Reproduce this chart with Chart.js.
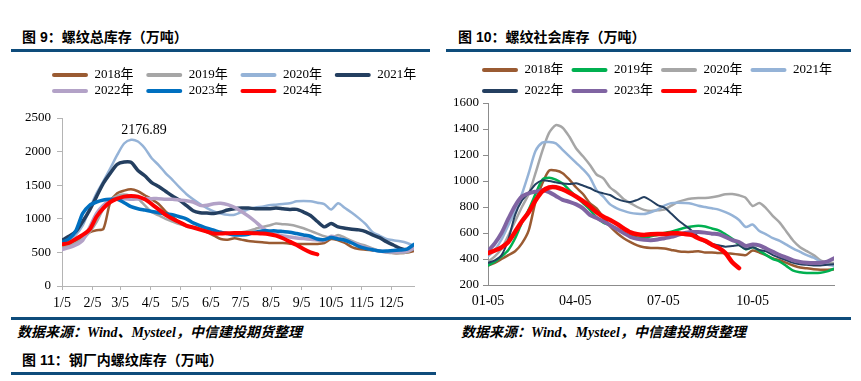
<!DOCTYPE html>
<html><head><meta charset="utf-8">
<script src="https://cdn.jsdelivr.net/npm/chart.js@4.4.1/dist/chart.umd.min.js"></script>
<style>
html,body{margin:0;padding:0;background:#fff;}
#page{position:relative;width:861px;height:381px;overflow:hidden;background:#fff;}
.title{position:absolute;font:bold 14px "Liberation Sans","Noto Sans CJK SC",sans-serif;color:#000;line-height:16px;white-space:nowrap;}
.rule{position:absolute;background:#0e4c7b;height:3px;}
.src{position:absolute;font:italic bold 14px "Liberation Serif","Noto Sans CJK SC",serif;color:#000;line-height:16px;white-space:nowrap;}
.cv{position:absolute;}
</style></head><body>
<div id="page">
 <div class="title" style="left:22px;top:29px">图 9：螺纹总库存（万吨）</div>
 <div class="title" style="left:458px;top:29px">图 10：螺纹社会库存（万吨）</div>
 <div class="rule" style="left:11px;top:49px;width:419px"></div>
 <div class="rule" style="left:446px;top:49px;width:405px"></div>
 <div class="cv" style="left:0px;top:55px;width:430px;height:255px"><canvas id="c1"></canvas></div>
 <div class="cv" style="left:430px;top:45px;width:431px;height:265px"><canvas id="c2"></canvas></div>
 <div class="rule" style="left:11px;top:317px;width:840px"></div>
 <div class="src" style="left:17px;top:325px">数据来源：Wind、Mysteel，中信建投期货整理</div>
 <div class="src" style="left:461px;top:325px">数据来源：Wind、Mysteel，中信建投期货整理</div>
 <div class="title" style="left:22px;top:352px">图 11：钢厂内螺纹库存（万吨）</div>
 <div class="rule" style="left:11px;top:372px;width:425px"></div>
</div>
<script>
// ---- shared weekly x positions (days after Jan 5) ----
const weekDays = [0,7,14,21,28,35,42,49,56,63,70,77,84,91,98,105,112,119,126,133,140,147,154,161,168,175,182,189,196,203,210,217,224,231,238,245,252,259,266,273,280,287,294,301,308,315,322,329,336,343,350,357];

// ---- Chart 1: 螺纹总库存 ----
const leftSeriesNames = ['2018年','2019年','2020年','2021年','2022年','2023年','2024年'];
const leftTickDays = [0,31,59,90,120,151,181,212,243,273,304,334];
const leftTickLabels = ['1/5','2/5','3/5','4/5','5/5','6/5','7/5','8/5','9/5','10/5','11/5','12/5'];
const L2018 = [600,620,660,740,800,830,850,1250,1380,1420, 1440,1410,1350,1290,1220,1110,1030,950,900,870, 850,800,750,700,690,710,690,670,660,650, 640,640,640,630,625,625,625,625,640,700, 680,640,580,550,540,530,520,505,490,490, 500,520];
const L2019 = [580,600,640,700,800,950,1150,1280,1340,1360, 1340,1300,1200,1100,1050,1000,960,920,890,870, 860,830,800,790,780,790,800,820,850,880, 900,930,920,910,890,860,820,780,740,720, 760,720,670,630,600,560,520,500,490,490, 500,560];
const L2020 = [640,680,760,900,1150,1380,1560,1750,1950,2120, 2176.89,2150,2050,1900,1800,1680,1580,1470,1370,1290, 1220,1160,1110,1080,1060,1060,1100,1140,1170,1180, 1200,1210,1220,1230,1260,1265,1260,1240,1220,1140, 1230,1160,1090,1010,920,800,750,700,680,665, 640,600];
const L2021 = [680,740,810,960,1130,1330,1530,1680,1810,1845, 1840,1720,1640,1540,1480,1410,1340,1280,1200,1120, 1090,1085,1080,1100,1130,1150,1160,1160,1150,1150, 1150,1160,1150,1140,1140,1100,1050,960,880,930, 880,860,845,835,810,760,720,660,610,560, 540,560];
const L2022 = [540,570,610,680,870,1080,1200,1280,1300,1300, 1290,1295,1300,1300,1300,1290,1290,1280,1270,1250, 1200,1200,1225,1230,1210,1170,1110,1040,960,870, 800,770,745,730,715,705,695,685,680,740, 710,680,650,610,570,540,520,510,510,510, 520,560];
const L2023 = [650,700,820,1080,1200,1250,1280,1290,1290,1240, 1180,1150,1130,1110,1090,1070,1060,1030,1000,940, 900,860,830,800,780,760,760,770,800,820, 820,820,810,800,780,760,740,700,690,720, 700,680,640,590,560,540,520,520,530,535, 550,620];
const L2024 = [620,640,700,760,840,1030,1160,1250,1300,1330, 1340,1330,1290,1220,1140,1060,1000,950,900,870, 840,810,780,780,785,790,790,790,785,780, 770,750,710,660,610,550,500,470];

// ---- Chart 2: 螺纹社会库存 ----
const rightSeriesNames = ['2018年','2019年','2020年','2021年','2022年','2023年','2024年'];
const rightTickDays = [0,90,181,273];
const rightTickLabels = ['01-05','04-05','07-05','10-05'];
const R2018 = [350,370,400,430,460,520,620,840,980,1080, 1080,1060,1010,950,900,830,790,720,650,600, 560,530,505,490,485,485,480,470,460,455, 455,460,450,450,446,445,440,435,430,465, 450,430,405,390,370,350,335,328,322,318, 318,320];
const R2019 = [350,380,420,470,560,680,780,900,1010,1025, 1010,980,930,880,830,780,720,680,660,630, 600,580,565,560,575,585,600,610,625,640, 650,655,650,635,620,590,555,510,475,490, 465,430,400,380,345,310,298,292,292,295, 305,325];
const R2020 = [380,420,480,580,690,800,900,1060,1230,1370, 1430,1410,1340,1250,1190,1125,1050,1020,950,910, 860,830,800,778,770,775,780,810,840,855, 865,870,870,875,885,898,900,890,870,808, 830,790,730,680,610,540,490,460,430,390, 372,369];
const R2021 = [420,470,550,660,770,900,1060,1230,1295,1300, 1290,1240,1190,1140,1090,1030,930,880,820,790, 770,755,748,746,760,780,810,830,832,830, 825,810,800,790,780,760,735,700,646,665, 615,590,560,540,510,480,455,430,410,380, 358,346];
const R2022 = [370,390,430,550,740,850,910,975,1005,1000, 990,980,977,982,965,946,920,905,892,862, 845,838,855,877,850,815,795,750,700,660, 620,570,530,515,505,495,500,505,475,490, 470,460,430,410,390,370,360,355,350,350, 355,360];
const R2023 = [460,520,600,710,810,880,905,918,928,915, 885,855,840,820,790,740,715,690,660,630, 600,570,555,548,545,550,560,570,585,600, 607,608,603,595,590,570,545,530,500,512, 505,480,455,430,410,390,378,372,370,372, 380,405];
const R2024 = [445,465,490,530,610,690,760,850,920,950, 952,935,910,880,845,805,760,725,700,670, 635,605,590,585,590,592,592,598,598,592, 585,560,540,510,485,445,375,330];

const legendPos = {
  id: 'legendPos',
  afterLayout(chart, args, o) {
    const lg = chart.legend;
    if (!lg || o.left === undefined) return;
    const h = lg.bottom - lg.top;
    lg.left = o.left; lg.right = o.left + o.width;
    lg.top = o.top; lg.bottom = o.top + h;
  }
};
const peakLabel = {
  id: 'peakLabel',
  afterDatasetsDraw(chart, args, o) {
    if (o.datasetIndex === undefined) return;
    const ds = chart.data.datasets[o.datasetIndex];
    let mi = 0;
    ds.data.forEach((p, i) => { if (p.y > ds.data[mi].y) mi = i; });
    const el = chart.getDatasetMeta(o.datasetIndex).data[mi];
    const ctx = chart.ctx;
    ctx.save();
    ctx.font = '14px "Liberation Serif"';
    ctx.fillStyle = '#000';
    ctx.textAlign = 'center';
    ctx.textBaseline = 'middle';
    ctx.fillText(ds.data[mi].y.toFixed(2), el.x + o.dx, el.y + o.dy);
    ctx.restore();
  }
};

function makeChart(id, names, series, colors, widths, cfg) {
  const datasets = series.map((vals, i) => ({
    label: names[i],
    data: vals.map((v, k) => ({ x: weekDays[k], y: v })),
    borderColor: colors[i],
    backgroundColor: colors[i],
    borderWidth: widths[i],
    pointRadius: 0,
    tension: 0.25,
    borderCapStyle: 'round',
    borderJoinStyle: 'round',
    order: series.length - i
  }));
  const fontFam = '"Liberation Serif", "Noto Sans CJK SC", serif';
  return new Chart(document.getElementById(id), {
    type: 'line',
    data: { datasets },
    plugins: [legendPos, peakLabel],
    options: {
      responsive: true, maintainAspectRatio: false, animation: false,
      layout: { padding: cfg.padding },
      plugins: {
        tooltip: { enabled: false },
        legend: {
          display: true, position: 'top', align: 'start',
          labels: {
            boxWidth: 36, boxHeight: 4, padding: cfg.legendPad,
            font: { family: fontFam, size: 13 }, color: '#000',
            generateLabels: (chart) => chart.data.datasets.map((ds, i) => ({
              text: ds.label + cfg.legendSuffix, fillStyle: ds.borderColor, strokeStyle: ds.borderColor,
              lineWidth: 0, hidden: false, datasetIndex: i, fontColor: '#000', borderRadius: 2
            }))
          }
        },
        legendPos: cfg.legendPos,
        peakLabel: cfg.peak || {}
      },
      scales: {
        x: {
          type: 'linear', min: 0, max: 357,
          afterBuildTicks: (s) => { s.ticks = cfg.tickDays.map(v => ({ value: v })); },
          afterFit: (s) => { s.height = cfg.xHeight; },
          grid: { display: true, drawOnChartArea: false, drawTicks: cfg.xTicks, tickLength: 4, color: cfg.axisColor },
          border: { display: true, color: cfg.axisColor, width: 1 },
          ticks: { autoSkip: false, maxRotation: 0, minRotation: 0, padding: cfg.xPad, color: '#000',
            font: { family: fontFam, size: 14 },
            callback: (v, i) => cfg.tickLabels[i] }
        },
        y: {
          min: cfg.yMin, max: cfg.yMax,
          afterFit: (s) => { s.width = cfg.yWidth; },
          grid: { display: true, drawOnChartArea: false, drawTicks: true, tickLength: 5, color: cfg.axisColor },
          border: { display: true, color: cfg.axisColor, width: 1 },
          ticks: { stepSize: cfg.yStep, padding: cfg.yPad, color: '#000', font: { family: fontFam, size: 13 },
            callback: (v) => String(v) }
        }
      }
    }
  });
}

makeChart('c1', leftSeriesNames,
  [L2018, L2019, L2020, L2021, L2022, L2023, L2024],
  ['#9a5b32', '#a6a6a6', '#95b3d7', '#243f60', '#b3a2c7', '#0070c0', '#ff0000'],
  [2.5, 2.5, 2.5, 3.5, 3.5, 3.5, 4],
  { padding: { top: 21, left: 0, right: 16, bottom: 0 }, legendPad: 3, legendSuffix: '\u2002 ',
    legendPos: { left: 49, top: 10.5, width: 420 },
    peak: { datasetIndex: 2, dx: 13, dy: -9 },
    tickDays: leftTickDays, tickLabels: leftTickLabels, xHeight: 24, xTicks: true, xPad: 5,
    axisColor: '#b4b4b4', yMin: 0, yMax: 2500, yStep: 500, yWidth: 62, yPad: 6 });

makeChart('c2', rightSeriesNames,
  [R2018, R2019, R2020, R2021, R2022, R2023, R2024],
  ['#9a5b32', '#00b050', '#a6a6a6', '#95b3d7', '#243f60', '#8064a2', '#ff0000'],
  [2.5, 2.5, 2.5, 2.5, 2, 4, 4.5],
  { padding: { top: 6, left: 0, right: 27, bottom: 0 }, legendPad: 8, legendSuffix: '',
    legendPos: { left: 44, top: 10.5, width: 400 },
    tickDays: rightTickDays, tickLabels: rightTickLabels, xHeight: 25, xTicks: false, xPad: 8,
    axisColor: '#8c8c8c', yMin: 200, yMax: 1600, yStep: 200, yWidth: 58, yPad: 4 });
</script>
</body></html>
